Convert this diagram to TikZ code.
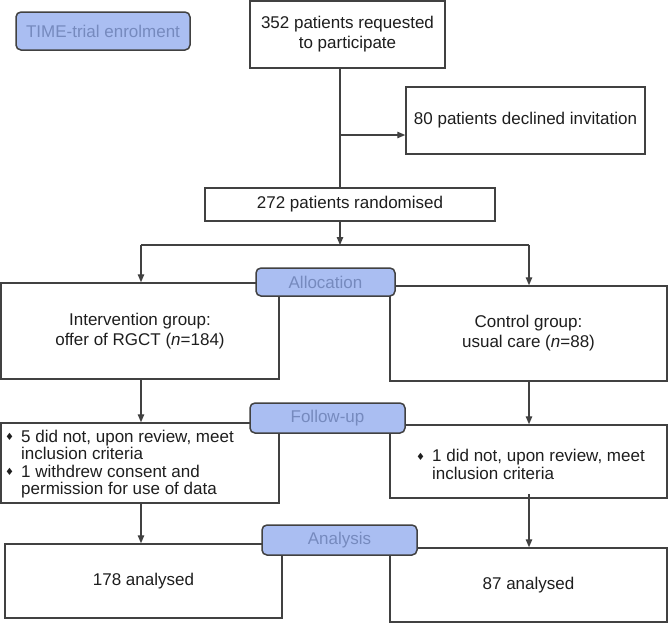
\documentclass[tikz,border=0pt]{standalone}
\usepackage{fontspec}
\setmainfont{Liberation Sans}
\newfontfamily\dejavu{DejaVu Sans}
\usetikzlibrary{arrows.meta}
\definecolor{bluefill}{RGB}{170,190,242}
\definecolor{bluetext}{RGB}{118,138,190}
\definecolor{edge}{RGB}{65,65,65}
\definecolor{txt}{RGB}{30,30,30}
\newcommand{\bul}{\makebox[16pt][l]{\raisebox{1.5pt}{\dejavu\fontsize{10}{10}\selectfont ♦}}}
\tikzset{
  box/.style={draw=edge, line width=1.5pt, fill=white, inner sep=0pt, align=center, text=txt,
    font=\fontsize{17}{20}\selectfont},
  stage/.style={draw=edge, line width=1.5pt, fill=bluefill, rounded corners=5pt, inner sep=0pt,
    text=bluetext, font=\fontsize{17}{20}\selectfont},
  ln/.style={draw=edge, line width=1.3pt},
  arr/.style={ln, -{Triangle[length=8pt,width=6.5pt]}},
  btext/.style={inner sep=0pt, align=left, text=txt, font=\fontsize{17}{17.5}\selectfont, anchor=west}
}
\begin{document}
\begin{tikzpicture}[x=1pt,y=-1pt]
\useasboundingbox (0,0) rectangle (670,627);
% top boxes
\node[stage, minimum width=174pt, minimum height=38pt] (enrol) at (103,31) {TIME-trial enrolment};
\node[box, minimum width=195pt, minimum height=67pt] (req) at (347.5,34.5) {352 patients requested\\to participate};
\node[box, minimum width=239pt, minimum height=67pt] (decl) at (525.5,120.5) {80 patients declined invitation};
\node[box, minimum width=290pt, minimum height=33pt] (rand) at (350,204.5) {272 patients randomised};
\coordinate (jn) at (340,245);
\coordinate (jL) at (141,245);
\coordinate (jR) at (529,245);
\coordinate (dj) at (340,135);
\draw[ln] (req.south -| jn) -- (rand.north -| jn);
\draw[arr] (dj) -- (dj -| decl.west);
\draw[arr] (rand.south -| jn) -- (jn);
\draw[ln] (jL) -- (jR);
% allocation
\node[box, minimum width=278pt, minimum height=96pt] (int) at (140,331) {Intervention group:\\offer of RGCT (\textit{n}=184)};
\node[box, minimum width=277pt, minimum height=95pt] (ctrl) at (528.5,333.5) {Control group:\\usual care (\textit{n}=88)};
\draw[arr] (jL) -- (int.north -| jL);
\draw[arr] (jR) -- (ctrl.north -| jR);
\node[stage, minimum width=139pt, minimum height=28pt] (alloc) at (325.5,282) {Allocation};
% follow-up
\node[box, minimum width=278pt, minimum height=80pt] (fuL) at (140,463) {};
\node[box, minimum width=277pt, minimum height=73pt] (fuR) at (528.5,461.5) {};
\node[btext] (fuLt) at (5,464) {\bul 5 did not, upon review, meet\\\hspace*{16pt}inclusion criteria\\\bul 1 withdrew consent and\\\hspace*{16pt}permission for use of data};
\node[btext] (fuRt) at (416,464.5) {\bul 1 did not, upon review, meet\\\hspace*{16pt}inclusion criteria};
\draw[arr] (int.south -| jL) -- (fuL.north -| jL);
\draw[arr] (ctrl.south -| jR) -- (fuR.north -| jR);
\node[stage, minimum width=155pt, minimum height=30pt] (fu) at (327.5,418) {Follow-up};
% analysis
\node[box, minimum width=277pt, minimum height=74pt] (resL) at (143.5,581) {178 analysed};
\node[box, minimum width=277pt, minimum height=74pt] (resR) at (528.5,585) {87 analysed};
\draw[arr] (fuL.south -| jL) -- (resL.north -| jL);
\draw[arr] ([yshift=5pt]fuR.south -| jR) -- (resR.north -| jR);
\node[stage, minimum width=155pt, minimum height=30pt] (ana) at (339.5,540) {Analysis};
\end{tikzpicture}
\end{document}
